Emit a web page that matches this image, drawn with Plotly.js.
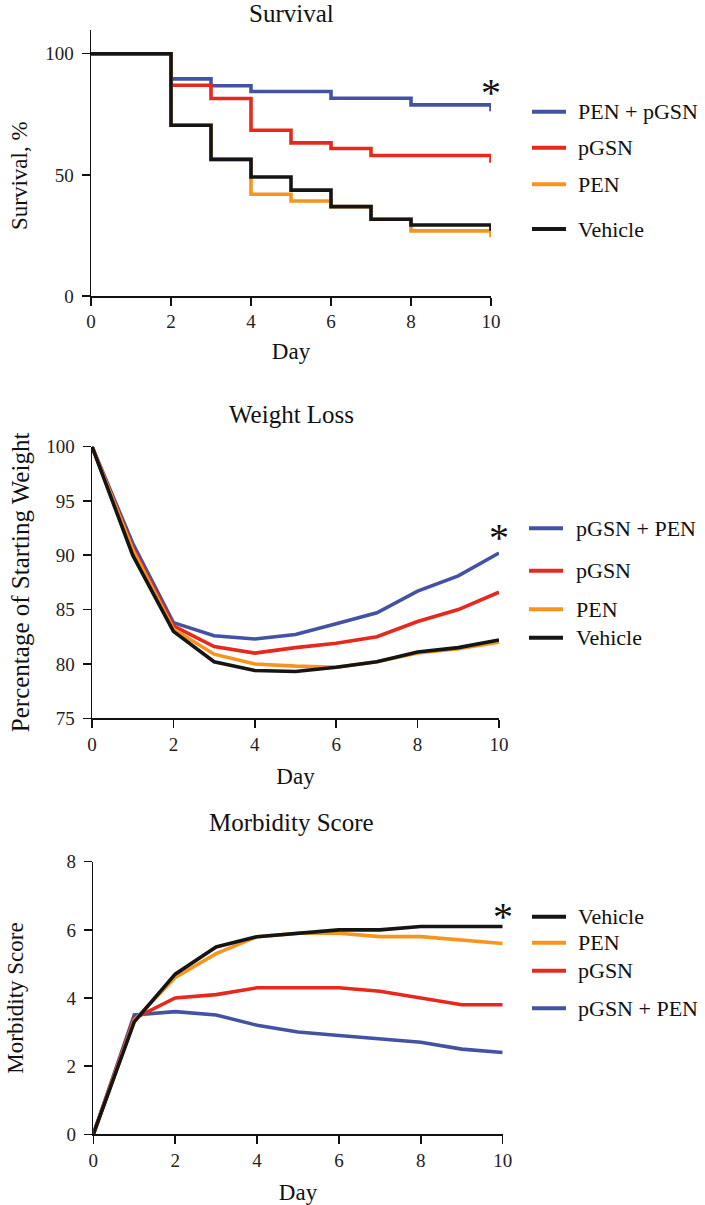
<!DOCTYPE html>
<html>
<head>
<meta charset="utf-8">
<script src="https://cdn.plot.ly/plotly-3.0.1.min.js"></script>
<style>html,body{margin:0;padding:0;background:#fff;}#chart{width:705px;height:1205px;}</style>
</head>
<body>
<div id="chart"></div>
<script>
// ---------- data ----------
var days = [0, 1, 2, 3, 4, 5, 6, 7, 8, 9, 10];

// Survival (% , value from that day on), plus the final end tick value at day 10
var survNames = ["PEN + pGSN", "pGSN", "PEN", "Vehicle"];
var survBlue   = [100, 100, 89.6, 86.8, 84.4, 84.4, 81.6, 81.6, 78.9, 78.9, 78.9];
var survRed    = [100, 100, 87.0, 81.5, 68.4, 63.2, 60.9, 58.0, 58.0, 58.0, 58.0];
var survOrange = [100, 100, 70.5, 56.4, 42.0, 39.2, 36.9, 31.7, 26.9, 26.9, 26.9];
var survBlack  = [100, 100, 70.5, 56.4, 49.1, 43.7, 36.9, 31.7, 29.3, 29.3, 29.3];
var survEnd    = [76.3, 55.0, 24.2, 26.9];

// Weight (% of starting weight)
var weightNames = ["pGSN + PEN", "pGSN", "PEN", "Vehicle"];
var wBlue   = [100, 91.1, 83.8, 82.6, 82.3, 82.7, 83.7, 84.7, 86.7, 88.1, 90.2];
var wRed    = [100, 90.7, 83.5, 81.6, 81.0, 81.5, 81.9, 82.5, 83.9, 85.0, 86.6];
var wOrange = [100, 90.5, 83.2, 80.9, 80.0, 79.8, 79.7, 80.2, 81.0, 81.4, 82.0];
var wBlack  = [100, 90.0, 83.0, 80.2, 79.4, 79.3, 79.7, 80.2, 81.1, 81.5, 82.2];

// Morbidity score
var morbNames = ["Vehicle", "PEN", "pGSN", "pGSN + PEN"];
var mBlack  = [0, 3.3, 4.7, 5.5, 5.8, 5.9, 6.0, 6.0, 6.1, 6.1, 6.1];
var mOrange = [0, 3.35, 4.6, 5.3, 5.8, 5.9, 5.9, 5.8, 5.8, 5.7, 5.6];
var mRed    = [0, 3.4, 4.0, 4.1, 4.3, 4.3, 4.3, 4.2, 4.0, 3.8, 3.8];
var mBlue   = [0, 3.5, 3.6, 3.5, 3.2, 3.0, 2.9, 2.8, 2.7, 2.5, 2.4];

var xTicks = [0, 2, 4, 6, 8, 10];
var survTicks = [0, 50, 100];

// ---------- style ----------
var C = {blue: "#4352A3", red: "#E8271D", orange: "#F7941D", black: "#151515"};
var FONT = "Liberation Serif";
var W = 705, H = 1205;
var LW = 3.6;

function px(x) { return x / W; }
function py(y) { return 1 - y / H; }

var traces = [];
function survTrace(vals, end, color, name) {
  traces.push({x: days.concat([10]), y: vals.concat([end]), mode: "lines", line: {shape: "hv", color: color, width: LW},
    name: name, xaxis: "x", yaxis: "y", showlegend: false, hoverinfo: "skip"});
}
survTrace(survBlue, survEnd[0], C.blue, survNames[0]);
survTrace(survRed, survEnd[1], C.red, survNames[1]);
survTrace(survOrange, survEnd[2], C.orange, survNames[2]);
survTrace(survBlack, survEnd[3], C.black, survNames[3]);

function lineTrace(vals, color, name, xa, ya) {
  traces.push({x: days, y: vals, mode: "lines", line: {color: color, width: LW}, name: name,
    xaxis: xa, yaxis: ya, showlegend: false, hoverinfo: "skip"});
}
lineTrace(wBlue, C.blue, weightNames[0], "x2", "y2");
lineTrace(wRed, C.red, weightNames[1], "x2", "y2");
lineTrace(wOrange, C.orange, weightNames[2], "x2", "y2");
lineTrace(wBlack, C.black, weightNames[3], "x2", "y2");

lineTrace(mBlue, C.blue, morbNames[3], "x3", "y3");
lineTrace(mRed, C.red, morbNames[2], "x3", "y3");
lineTrace(mOrange, C.orange, morbNames[1], "x3", "y3");
lineTrace(mBlack, C.black, morbNames[0], "x3", "y3");

var axisBase = {
  showline: true, linecolor: "#111", linewidth: 1.5, ticks: "outside", ticklen: 8, tickwidth: 1.5,
  tickcolor: "#111", showgrid: false, zeroline: false, automargin: false, fixedrange: true,
  tickfont: {family: FONT, size: 19, color: "#222"}
};
function ax(o) { var r = {}; for (var k in axisBase) r[k] = axisBase[k]; for (var k2 in o) r[k2] = o[k2]; return r; }
function tf(size) { return {family: FONT, size: size, color: "#111"}; }

var layout = {
  width: W, height: H, margin: {l: 0, r: 0, t: 0, b: 0}, paper_bgcolor: "#fff", plot_bgcolor: "rgba(0,0,0,0)",
  showlegend: false,
  font: {family: FONT, color: "#111"},
  xaxis: ax({domain: [px(91), px(491)], range: [0, 10], tickvals: xTicks, anchor: "y", ticklabelstandoff: 0,
    title: {text: "Day", font: tf(23), standoff: 11}}),
  yaxis: ax({domain: [py(296), py(29.5)], range: [0, 110], tickvals: survTicks, anchor: "x", ticklabelstandoff: 4}),
  xaxis2: ax({domain: [px(92), px(499)], range: [0, 10], tickvals: xTicks, anchor: "y2", ticklabelstandoff: 0,
    title: {text: "Day", font: tf(23), standoff: 14}}),
  yaxis2: ax({domain: [py(718.3), py(446.5)], range: [75, 100], dtick: 5, anchor: "x2", ticklabelstandoff: 4,
    title: {text: "Percentage of Starting Weight", font: tf(25), standoff: 9}}),
  xaxis3: ax({domain: [px(93.3), px(502.7)], range: [0, 10], tickvals: xTicks, anchor: "y3", ticklabelstandoff: 0,
    title: {text: "Day", font: tf(23), standoff: 14}}),
  yaxis3: ax({domain: [py(1134.3), py(861.7)], range: [0, 8], dtick: 2, anchor: "x3", ticklabelstandoff: 4,
    title: {text: "Morbidity Score", font: tf(23), standoff: 36}}),
  annotations: [],
  shapes: []
};

// survival y-axis title (centred on the 0-100 part of the axis, as in the figure)
layout.annotations.push({text: "Survival, %", xref: "paper", yref: "paper", x: px(19), y: py(176), xanchor: "center", yanchor: "middle",
  textangle: -90, showarrow: false, font: tf(23)});

// panel titles
var panelTitles = [["Survival", 14], ["Weight Loss", 414], ["Morbidity Score", 822]];
panelTitles.forEach(function (t) {
  layout.annotations.push({text: t[0], xref: "paper", yref: "paper", x: px(291), y: py(t[1]), xanchor: "center", yanchor: "middle",
    showarrow: false, font: tf(25)});
});

// significance asterisks
var stars = [["x", "y", 10, 84], ["x2", "y2", 10, 91.6], ["x3", "y3", 10, 6.4]];
stars.forEach(function (s) {
  layout.annotations.push({text: "*", xref: s[0], yref: s[1], x: s[2], y: s[3], xanchor: "center", yanchor: "middle",
    showarrow: false, font: tf(40)});
});

// legends (swatch + label), positioned to match the figure
function legend(names, colors, rows, x0, x1, tx) {
  names.forEach(function (n, i) {
    layout.shapes.push({type: "line", xref: "paper", yref: "paper", x0: px(x0), x1: px(x1), y0: py(rows[i]), y1: py(rows[i]),
      line: {color: colors[i], width: 4}});
    layout.annotations.push({text: n, xref: "paper", yref: "paper", x: px(tx), y: py(rows[i]), xanchor: "left", yanchor: "middle",
      showarrow: false, font: tf(22)});
  });
}
legend(survNames, [C.blue, C.red, C.orange, C.black], [111.7, 147.7, 184.3, 229], 532, 566, 576);
legend(weightNames, [C.blue, C.red, C.orange, C.black], [528.3, 570.7, 609.3, 637.7], 529, 563, 574);
legend(morbNames, [C.black, C.orange, C.red, C.blue], [916.7, 942.7, 970.7, 1008.3], 532, 566, 576);

Plotly.newPlot("chart", traces, layout, {staticPlot: true, displayModeBar: false});
</script>
</body>
</html>
